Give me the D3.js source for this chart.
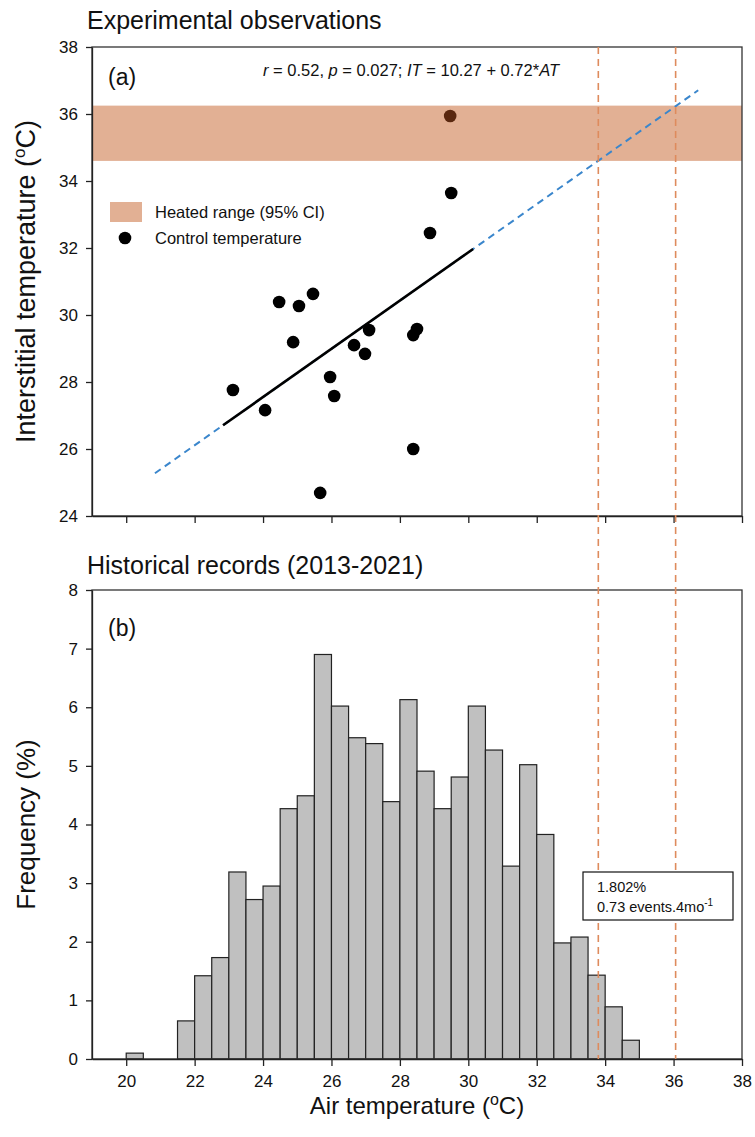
<!DOCTYPE html>
<html>
<head>
<meta charset="utf-8">
<script src="https://cdn.jsdelivr.net/npm/d3@7"></script>
<style>
  body { margin: 0; background: #fff; }
  text { font-family: "Liberation Sans", Arial, sans-serif; fill: #111; }
</style>
</head>
<body>
<svg id="chart" width="755" height="1137"></svg>
<script>
// (a) control observations: air temperature vs interstitial temperature
const airTemp = [29.50, 28.88, 23.12, 24.06, 24.47, 24.88, 25.05, 25.46, 25.67, 25.96,
                 26.08, 26.66, 26.98, 27.10, 28.39, 28.50, 28.39];
const interTemp = [33.64, 32.45, 27.76, 27.16, 30.39, 29.19, 30.27, 30.63, 24.69, 28.15,
                   27.58, 29.10, 28.84, 29.55, 29.40, 29.58, 26.00];
const heatedPoint = [29.47, 35.94];
const heatedRange = [34.6, 36.25];          // 95% CI of heated treatment
const fitCoef = [10.27, 0.72];              // IT = a + b*AT
const fitObserved = [22.83, 30.14];
const fitExtended = [20.84, 36.72];
const thresholds = [33.8, 36.06];           // AT where fit reaches heated range

// (b) historical air temperature histogram, 0.5 degree bins
const binStart = [20.0, 21.5, 22.0, 22.5, 23.0, 23.5, 24.0, 24.5, 25.0, 25.5, 26.0, 26.5,
                  27.0, 27.5, 28.0, 28.5, 29.0, 29.5, 30.0, 30.5, 31.0, 31.5, 32.0, 32.5,
                  33.0, 33.5, 34.0, 34.5];
const binFreq = [0.10, 0.65, 1.42, 1.73, 3.19, 2.72, 2.95, 4.27, 4.49, 6.90, 6.02, 5.48,
                 5.38, 4.39, 6.13, 4.91, 4.27, 4.81, 6.02, 5.27, 3.29, 5.02, 3.83, 1.98,
                 2.08, 1.43, 0.89, 0.32];
const binWidth = 0.5;

const xTicks = [20, 22, 24, 26, 28, 30, 32, 34, 36, 38];
const topTicks = [24, 26, 28, 30, 32, 34, 36, 38];
const botTicks = [0, 1, 2, 3, 4, 5, 6, 7, 8];

const bandColor = '#e2b094';
const threshColor = '#de8b5d';

const svg = d3.select('#chart');

const x = d3.scaleLinear().domain([19, 38]).range([92, 742]);
const yTop = d3.scaleLinear().domain([24, 38]).range([516, 47]);
const yBot = d3.scaleLinear().domain([0, 8]).range([1059, 590]);

function styleAxis(g) {
  g.selectAll('path, line').attr('stroke', '#222').attr('stroke-width', 1.3);
  g.selectAll('text').attr('font-size', 17).attr('fill', '#111')
    .attr('font-family', '"Liberation Sans", Arial, sans-serif');
}

// ---------- panel (a) ----------
svg.append('text')
  .attr('x', 87).attr('y', 29)
  .attr('font-size', 25)
  .text('Experimental observations');

svg.append('rect')
  .attr('x', x(19)).attr('width', x(38) - x(19))
  .attr('y', yTop(heatedRange[1]))
  .attr('height', yTop(heatedRange[0]) - yTop(heatedRange[1]))
  .attr('fill', bandColor);

svg.append('rect')
  .attr('x', x(19)).attr('y', yTop(38))
  .attr('width', x(38) - x(19)).attr('height', yTop(24) - yTop(38))
  .attr('fill', 'none').attr('stroke', '#333').attr('stroke-width', 1.3);

svg.append('g')
  .attr('transform', 'translate(' + x(19) + ',0)')
  .call(d3.axisLeft(yTop).tickValues(topTicks).tickSize(6).tickSizeOuter(0).tickPadding(8))
  .call(styleAxis);

svg.append('g')
  .attr('transform', 'translate(0,' + yTop(24) + ')')
  .call(d3.axisBottom(x).tickValues(xTicks).tickSize(7).tickSizeOuter(0).tickFormat(''))
  .call(styleAxis);

const line = d3.line().x(d => x(d)).y(d => yTop(fitCoef[0] + fitCoef[1] * d));

svg.append('path')
  .datum(fitExtended)
  .attr('d', line)
  .attr('fill', 'none')
  .attr('stroke', '#3a86cc')
  .attr('stroke-width', 2)
  .attr('stroke-dasharray', '7,5');

svg.append('path')
  .datum(fitObserved)
  .attr('d', line)
  .attr('fill', 'none')
  .attr('stroke', '#000')
  .attr('stroke-width', 2.6);

svg.selectAll('.obs')
  .data(airTemp)
  .enter().append('circle')
  .attr('class', 'obs')
  .attr('cx', d => x(d))
  .attr('cy', (d, i) => yTop(interTemp[i]))
  .attr('r', 6.3)
  .attr('fill', '#000');

svg.append('circle')
  .attr('cx', x(heatedPoint[0]))
  .attr('cy', yTop(heatedPoint[1]))
  .attr('r', 6.3)
  .attr('fill', '#5a2810');

svg.append('text')
  .attr('x', 108).attr('y', 85)
  .attr('font-size', 23)
  .text('(a)');

const eq = svg.append('text')
  .attr('x', 411).attr('y', 76)
  .attr('text-anchor', 'middle')
  .attr('font-size', 16.5);
eq.append('tspan').attr('font-style', 'italic').text('r');
eq.append('tspan').text(' = 0.52, ');
eq.append('tspan').attr('font-style', 'italic').text('p');
eq.append('tspan').text(' = 0.027; ');
eq.append('tspan').attr('font-style', 'italic').text('IT');
eq.append('tspan').text(' = 10.27 + 0.72*');
eq.append('tspan').attr('font-style', 'italic').text('AT');

// legend
svg.append('rect')
  .attr('x', 110).attr('y', 202).attr('width', 32).attr('height', 20)
  .attr('fill', bandColor);
svg.append('text')
  .attr('x', 155).attr('y', 218).attr('font-size', 16.5)
  .text('Heated range (95% CI)');
svg.append('circle')
  .attr('cx', 125).attr('cy', 238).attr('r', 6.3).attr('fill', '#000');
svg.append('text')
  .attr('x', 155).attr('y', 244).attr('font-size', 16.5)
  .text('Control temperature');

const yLabA = svg.append('text')
  .attr('transform', 'translate(35,' + (yTop(31)) + ') rotate(-90)')
  .attr('text-anchor', 'middle')
  .attr('font-size', 27);
yLabA.append('tspan').text('Interstitial temperature (');
yLabA.append('tspan').attr('font-size', 17).attr('dy', -10).text('o');
yLabA.append('tspan').attr('dy', 10).text('C)');

// ---------- panel (b) ----------
svg.append('text')
  .attr('x', 87).attr('y', 574)
  .attr('font-size', 25)
  .text('Historical records (2013-2021)');

svg.selectAll('.bar')
  .data(binStart)
  .enter().append('rect')
  .attr('class', 'bar')
  .attr('x', d => x(d))
  .attr('width', d => x(d + binWidth) - x(d))
  .attr('y', (d, i) => yBot(binFreq[i]))
  .attr('height', (d, i) => yBot(0) - yBot(binFreq[i]))
  .attr('fill', '#c0c0c0')
  .attr('stroke', '#222')
  .attr('stroke-width', 1.2);

svg.append('rect')
  .attr('x', x(19)).attr('y', yBot(8))
  .attr('width', x(38) - x(19)).attr('height', yBot(0) - yBot(8))
  .attr('fill', 'none').attr('stroke', '#333').attr('stroke-width', 1.3);

svg.append('g')
  .attr('transform', 'translate(' + x(19) + ',0)')
  .call(d3.axisLeft(yBot).tickValues(botTicks).tickSize(6).tickSizeOuter(0).tickPadding(8))
  .call(styleAxis);

svg.append('g')
  .attr('transform', 'translate(0,' + yBot(0) + ')')
  .call(d3.axisBottom(x).tickValues(xTicks).tickSize(7).tickSizeOuter(0).tickPadding(9))
  .call(styleAxis);

// threshold lines through both panels
svg.selectAll('.thresh')
  .data(thresholds)
  .enter().append('line')
  .attr('class', 'thresh')
  .attr('x1', d => x(d)).attr('x2', d => x(d))
  .attr('y1', yTop(38)).attr('y2', yBot(0))
  .attr('stroke', threshColor)
  .attr('stroke-width', 1.6)
  .attr('stroke-dasharray', '7,5');

svg.append('rect')
  .attr('x', 583).attr('y', 872).attr('width', 150).attr('height', 48)
  .attr('fill', '#fff').attr('stroke', '#111').attr('stroke-width', 1.2);
svg.append('text')
  .attr('x', 597).attr('y', 892).attr('font-size', 14.5)
  .text('1.802%');
const ev = svg.append('text')
  .attr('x', 597).attr('y', 912).attr('font-size', 14.5);
ev.append('tspan').text('0.73 events.4mo');
ev.append('tspan').attr('font-size', 10).attr('dy', -6).text('-1');

svg.append('text')
  .attr('x', 108).attr('y', 636)
  .attr('font-size', 23)
  .text('(b)');

svg.append('text')
  .attr('transform', 'translate(35,' + yBot(4) + ') rotate(-90)')
  .attr('text-anchor', 'middle')
  .attr('font-size', 26)
  .text('Frequency (%)');

const xLab = svg.append('text')
  .attr('x', (x(19) + x(38)) / 2).attr('y', 1114)
  .attr('text-anchor', 'middle')
  .attr('font-size', 24);
xLab.append('tspan').text('Air temperature (');
xLab.append('tspan').attr('font-size', 16).attr('dy', -9).text('o');
xLab.append('tspan').attr('dy', 9).text('C)');
</script>
</body>
</html>
